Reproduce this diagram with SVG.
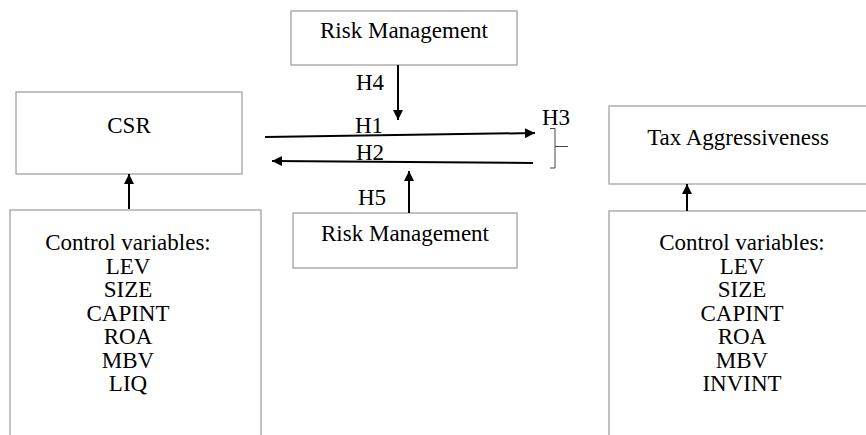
<svg xmlns="http://www.w3.org/2000/svg" width="866" height="435" viewBox="0 0 866 435">
<style>
.box{fill:#fff;stroke:#9a9a9a;stroke-width:1.2}
.t{font-family:"Liberation Serif","Times New Roman",serif;font-size:23px;fill:#000;text-anchor:middle}
.l{font-family:"Liberation Serif","Times New Roman",serif;font-size:23px;fill:#000}
.a{stroke:#000;stroke-width:2;fill:none;marker-end:url(#ah)}
</style>
<defs>
<marker id="ah" viewBox="0 0 10 10" refX="10" refY="5" markerWidth="12" markerHeight="10" markerUnits="userSpaceOnUse" orient="auto">
<path d="M0,0 L10,5 L0,10 z" fill="#000"/>
</marker>
</defs>
<rect width="866" height="435" fill="#fff"/>
<g id="rm-top">
<rect class="box" x="291" y="11" width="226" height="54"/>
<text class="t" x="404" y="38">Risk Management</text>
</g>
<g id="csr">
<rect class="box" x="16" y="92" width="226" height="82"/>
<text class="t" x="129" y="133">CSR</text>
</g>
<g id="tax">
<rect class="box" x="609" y="106" width="270" height="78"/>
<text class="t" x="738" y="145">Tax Aggressiveness</text>
</g>
<g id="rm-bottom">
<rect class="box" x="293" y="213" width="224" height="55"/>
<text class="t" x="405" y="241">Risk Management</text>
</g>
<g id="ctrl-left">
<rect class="box" x="10" y="210" width="251" height="240"/>
<text class="t" x="128" y="250">Control variables:</text>
<text class="t" x="128" y="273.5">LEV</text>
<text class="t" x="128" y="297">SIZE</text>
<text class="t" x="128" y="320.5">CAPINT</text>
<text class="t" x="128" y="344">ROA</text>
<text class="t" x="128" y="367.5">MBV</text>
<text class="t" x="128" y="391">LIQ</text>
</g>
<g id="ctrl-right">
<rect class="box" x="609" y="211" width="270" height="240"/>
<text class="t" x="742" y="250">Control variables:</text>
<text class="t" x="742" y="273.5">LEV</text>
<text class="t" x="742" y="297">SIZE</text>
<text class="t" x="742" y="320.5">CAPINT</text>
<text class="t" x="742" y="344">ROA</text>
<text class="t" x="742" y="367.5">MBV</text>
<text class="t" x="742" y="391">INVINT</text>
</g>
<g id="connectors">
<line class="a" x1="265" y1="137" x2="535" y2="133"/>
<line class="a" x1="533" y1="163" x2="272" y2="161"/>
<line class="a" x1="398" y1="65" x2="398" y2="120"/>
<line class="a" x1="409" y1="213" x2="409" y2="171"/>
<line class="a" x1="129" y1="209" x2="129" y2="174"/>
<line class="a" x1="687" y1="211" x2="687" y2="184"/>
<path d="M550,128.5 H555 V146.5 L568,146.5 M555,146.5 V168 H550" fill="none" stroke="#444" stroke-width="1"/>
<text class="l" x="356" y="90">H4</text>
<text class="l" x="355" y="133">H1</text>
<text class="l" x="356" y="160">H2</text>
<text class="l" x="358" y="205">H5</text>
<text class="l" x="542" y="125">H3</text>
</g>
</svg>
